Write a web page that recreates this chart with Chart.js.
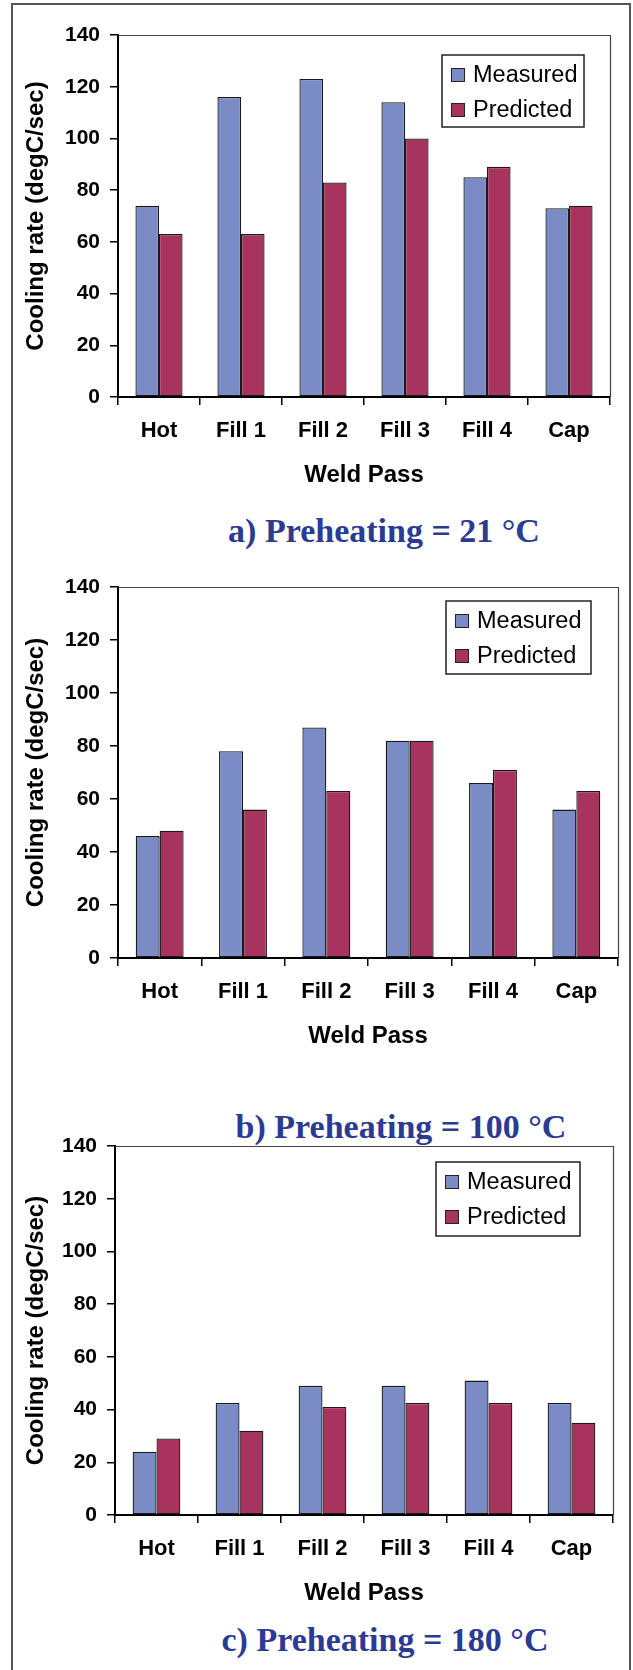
<!DOCTYPE html>
<html>
<head>
<meta charset="utf-8">
<script src="https://cdn.jsdelivr.net/npm/chart.js@4.4.0/dist/chart.umd.min.js"></script>
<style>
  body { margin: 0; background: #fff; }
  #page { position: relative; width: 633px; height: 1670px; overflow: hidden; }
  #frame { position: absolute; left: 11px; top: 3px; width: 616px; height: 1700px; border: 2px solid #555; border-bottom: none; }
  .box { position: absolute; left: 0; width: 633px; }
  .caption { position: absolute; font: bold 34px 'Liberation Serif', 'Times New Roman', serif; color: #2D3A93; line-height: 1; white-space: nowrap; transform: translate(-50%, -50%); }
</style>
</head>
<body>
<div id="page">
  <div id="frame"></div>

  <div class="box" style="top:0px;height:494px"><canvas id="chartA"></canvas></div>
  <div class="caption" style="left:384px;top:531px">a) Preheating = 21 °C</div>

  <div class="box" style="top:550px;height:505px"><canvas id="chartB"></canvas></div>
  <div class="caption" style="left:401px;top:1127px">b) Preheating = 100 °C</div>

  <div class="box" style="top:1100px;height:512px"><canvas id="chartC"></canvas></div>
  <div class="caption" style="left:385px;top:1640px">c) Preheating = 180 °C</div>
</div>

<script>
const passes = ['Hot', 'Fill 1', 'Fill 2', 'Fill 3', 'Fill 4', 'Cap'];

const measured21 = [74, 116, 123, 114, 85, 73];
const predicted21 = [63, 63, 83, 100, 89, 74];

const measured100 = [46, 78, 87, 82, 66, 56];
const predicted100 = [48, 56, 63, 82, 71, 63];

const measured180 = [24, 42.5, 49, 49, 51, 42.5];
const predicted180 = [29, 32, 41, 42.5, 42.5, 35];

const yTicks = [0, 20, 40, 60, 80, 100, 120, 140];

const family = "'Liberation Sans', Arial, sans-serif";

// top/right frame of the plot and the boxed legend inside it
const frameLegend = {
  id: 'frameLegend',
  afterDatasetsDraw(chart, args, opts) {
    const { ctx, chartArea: a } = chart;
    ctx.save();
    ctx.strokeStyle = '#444';
    ctx.lineWidth = 1.2;
    ctx.beginPath();
    ctx.moveTo(a.left, a.top + 0.5);
    ctx.lineTo(a.right + 0.5, a.top + 0.5);
    ctx.lineTo(a.right + 0.5, a.bottom);
    ctx.stroke();

    const bx = a.right + opts.dx, by = a.top + opts.dy;
    ctx.fillStyle = '#fff';
    ctx.fillRect(bx, by, opts.w, opts.h);
    ctx.strokeStyle = '#222';
    ctx.lineWidth = 1.5;
    ctx.strokeRect(bx, by, opts.w, opts.h);

    ctx.font = '23.5px ' + family;
    ctx.textBaseline = 'middle';
    chart.data.datasets.forEach((ds, i) => {
      const cy = by + 20 + i * 35;
      ctx.fillStyle = ds.backgroundColor;
      ctx.fillRect(bx + 9, cy - 7, 14, 14);
      ctx.strokeStyle = '#222';
      ctx.lineWidth = 1;
      ctx.strokeRect(bx + 9.5, cy - 6.5, 13, 13);
      ctx.fillStyle = '#000';
      ctx.fillText(ds.label, bx + 31, cy + 1);
    });
    ctx.restore();
  }
};

function makeChart(id, measured, predicted, padTop, padRight, yWidth, legendOpts) {
  new Chart(document.getElementById(id), {
    type: 'bar',
    data: {
      labels: passes,
      datasets: [
        { label: 'Measured', data: measured, backgroundColor: '#7B8BC5', borderColor: '#1a1a1a', borderWidth: 1.3, borderSkipped: false },
        { label: 'Predicted', data: predicted, backgroundColor: '#A8335F', borderColor: '#1a1a1a', borderWidth: 1.3, borderSkipped: false }
      ]
    },
    options: {
      responsive: true,
      maintainAspectRatio: false,
      animation: false,
      layout: { padding: { top: padTop, right: padRight, left: 0, bottom: 2 } },
      datasets: { bar: { categoryPercentage: 0.575, barPercentage: 1 } },
      plugins: {
        legend: { display: false },
        tooltip: { enabled: false },
        frameLegend: legendOpts
      },
      scales: {
        x: {
          grid: { drawOnChartArea: false, tickLength: 8, color: '#000', lineWidth: 1.5 },
          border: { color: '#000', width: 2 },
          ticks: { color: '#000', font: { family, size: 22, weight: 'bold' }, padding: 13, maxRotation: 0, autoSkip: false },
          title: { display: true, text: 'Weld Pass', color: '#000', font: { family, size: 24, weight: 'bold' }, padding: { top: 0, bottom: 2 } },
          afterFit: s => { s.height = 95; }
        },
        y: {
          min: 0,
          max: 140,
          afterBuildTicks: s => { s.ticks = yTicks.map(v => ({ value: v })); },
          grid: { drawOnChartArea: false, tickLength: 8, color: '#000', lineWidth: 1.5 },
          border: { color: '#000', width: 2 },
          ticks: { color: '#000', font: { family, size: 21, weight: 'bold' }, padding: 10 },
          title: { display: true, text: 'Cooling rate (degC/sec)', color: '#000', font: { family, size: 24, weight: 'bold' }, padding: { top: 22, bottom: 0 } },
          afterFit: s => { s.width = yWidth; }
        }
      }
    },
    plugins: [frameLegend]
  });
}

makeChart('chartA', measured21, predicted21, 35, 23, 118, { dx: -168, dy: 20, w: 142, h: 72 });
makeChart('chartB', measured100, predicted100, 37, 15, 118, { dx: -172, dy: 14, w: 145, h: 73 });
makeChart('chartC', measured180, predicted180, 46, 20, 115, { dx: -177, dy: 16, w: 144, h: 74 });
</script>
</body>
</html>
